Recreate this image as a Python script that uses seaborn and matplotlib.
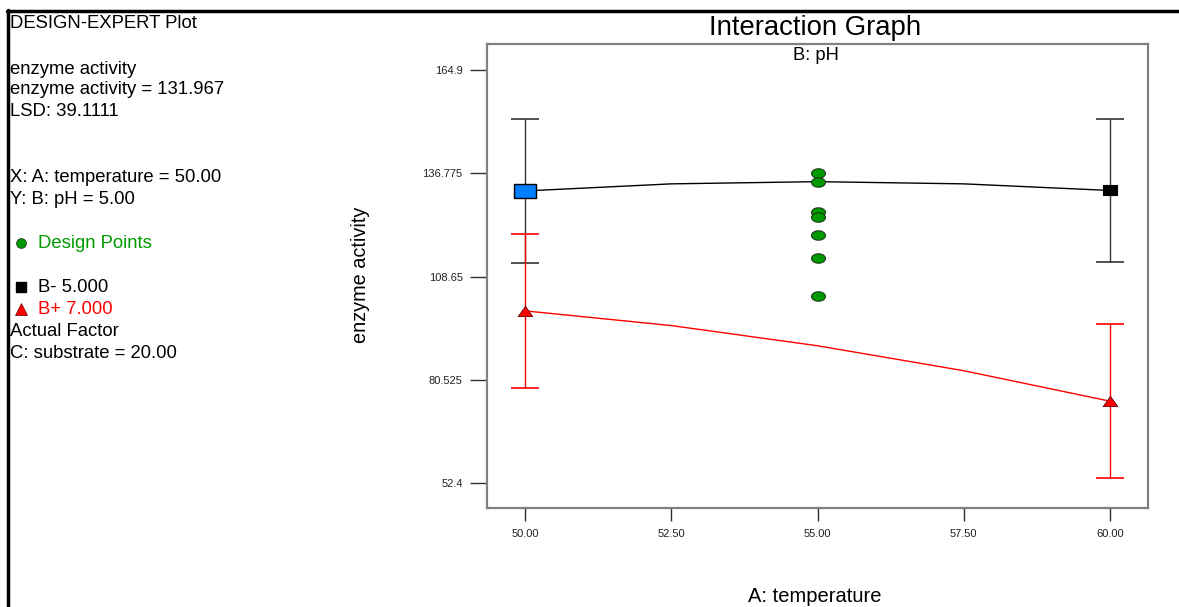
import numpy as np
import pandas as pd
import matplotlib
matplotlib.use("Agg")
import matplotlib.pyplot as plt
import seaborn as sns
from matplotlib.lines import Line2D

# ---------------- data ----------------
temperature_levels = [50.0, 52.5, 55.0, 57.5, 60.0]
ph_low_curve = [131.967, 133.9, 134.5, 133.9, 132.1]     # B- 5.000
ph_high_curve = [99.3, 95.3, 89.8, 83.0, 74.7]           # B+ 7.000
end_temps = [50.0, 60.0]
ph_low_means = [131.967, 132.1]
ph_high_means = [99.3, 74.7]
ph_low_err = [19.5, 19.5]
ph_high_err = [21.0, 21.0]
design_temp = [55.0, 55.0, 55.0, 55.0, 55.0, 55.0, 55.0]
design_activity = [136.9, 134.5, 126.3, 124.95, 120.0, 113.8, 103.4]
y_ticks = [52.4, 80.525, 108.65, 136.775, 164.9]
y_tick_labels = ["52.4", "80.525", "108.65", "136.775", "164.9"]
x_ticks = [50.0, 52.5, 55.0, 57.5, 60.0]
x_tick_labels = ["50.00", "52.50", "55.00", "57.50", "60.00"]

info_lines = [
    "DESIGN-EXPERT Plot",
    "enzyme activity",
    "enzyme activity = 131.967",
    "LSD: 39.1111",
    "X: A: temperature = 50.00",
    "Y: B: pH = 5.00",
    "Design Points",
    "B- 5.000",
    "B+ 7.000",
    "Actual Factor",
    "C: substrate = 20.00",
]

# ---------------- style ----------------
sns.set_theme(style="white")
plt.rcParams["font.family"] = ["Liberation Sans", "DejaVu Sans"]

W, H = 1179, 607
fig = plt.figure(figsize=(W / 100, H / 100), dpi=100)
fig.patch.set_facecolor("white")


def fx(px):
    return px / W


def fy(py):
    return 1 - py / H


ax = fig.add_axes([fx(487), fy(508), fx(1148) - fx(487), fy(44) - fy(508)])
ax.set_facecolor("white")

GREEN = "#009a00"
BLUE = "#0080ff"
RED = "#ff0000"

rect = [(-1, -0.68), (1, -0.68), (1, 0.68), (-1, 0.68), (-1, -0.68)]
tri = [(0, 0.7), (1, -0.7), (-1, -0.7), (0, 0.7)]
theta = np.linspace(0, 2 * np.pi, 40)
ellipse = list(zip(np.cos(theta), 0.68 * np.sin(theta)))

# curves
sns.lineplot(x=temperature_levels, y=ph_low_curve, color="black", lw=1.0, ax=ax)
sns.lineplot(x=temperature_levels, y=ph_high_curve, color=RED, lw=1.0, ax=ax)

# error bars
ax.errorbar(end_temps, ph_low_means, yerr=ph_low_err, fmt="none", ecolor="#333333",
            elinewidth=1.0, capsize=10, capthick=1.2, zorder=2)
ax.errorbar(end_temps, ph_high_means, yerr=ph_high_err, fmt="none", ecolor=RED,
            elinewidth=1.0, capsize=10, capthick=1.2, zorder=2)

# design points
sns.scatterplot(x=design_temp, y=design_activity, marker=ellipse, s=100,
                color=GREEN, edgecolor="#1a3a1a", linewidth=0.8, ax=ax, zorder=4)

# end markers
sns.scatterplot(x=[end_temps[0]], y=[ph_low_means[0]], marker=rect, s=250,
                color=BLUE, edgecolor="black", linewidth=1.0, ax=ax, zorder=5)
sns.scatterplot(x=[end_temps[1]], y=[ph_low_means[1]], marker=rect, s=100,
                color="black", edgecolor="black", linewidth=0.8, ax=ax, zorder=5)
sns.scatterplot(x=end_temps, y=ph_high_means, marker=tri, s=110,
                color=RED, edgecolor="#600000", linewidth=0.6, ax=ax, zorder=5)

ax.set_xlim(49.35, 60.65)
ax.set_ylim(45.6, 172.0)
ax.set_xticks(x_ticks)
ax.set_xticklabels(x_tick_labels)
ax.set_yticks(y_ticks)
ax.set_yticklabels(y_tick_labels)
ax.tick_params(axis="y", direction="out", length=12.5, width=1.0, color="#303030",
               labelsize=8, pad=5, left=True, labelcolor="#222222")
ax.tick_params(axis="x", direction="out", length=9, width=1.0, color="#303030",
               labelsize=8, pad=6, bottom=True, labelcolor="#222222")
for sp in ax.spines.values():
    sp.set_color("#808080")
    sp.set_linewidth(1.6)
ax.set_xlabel("")
ax.set_ylabel("")

# axis labels & titles
fig.text(fx(360), fy(275), "enzyme activity", rotation=90, ha="center", va="center",
         fontsize=14.3, color="black")
fig.text(fx(815), fy(596), "A: temperature", ha="center", va="center",
         fontsize=14.5, color="black")
fig.text(fx(815), fy(28), "Interaction Graph", ha="center", va="center",
         fontsize=19.8, color="black")
fig.text(fx(816), fy(56), "B: pH", ha="center", va="center", fontsize=13.2, color="black")

# left information panel
ys = [24, 69, 90, 112, 178, 200, 244, 288, 310, 332, 354]
for text, y in zip(info_lines, ys):
    color = "black"
    x = 10
    if text == "Design Points":
        color = GREEN
        x = 38
    elif text == "B- 5.000":
        x = 38
    elif text == "B+ 7.000":
        color = RED
        x = 38
    fig.text(fx(x), fy(y), text, ha="left", va="center", fontsize=13.3, color=color)

fig.add_artist(Line2D([fx(21)], [fy(243)], marker="o", markersize=7, color=GREEN,
                      markeredgecolor="#1a3a1a", markeredgewidth=0.6, transform=fig.transFigure))
fig.add_artist(Line2D([fx(21)], [fy(287)], marker="s", markersize=7, color="black",
                      transform=fig.transFigure))
fig.add_artist(Line2D([fx(21)], [fy(309)], marker="^", markersize=8.5, color=RED,
                      markeredgecolor="#600000", markeredgewidth=0.5, transform=fig.transFigure))

# outer border (top and left)
fig.add_artist(Line2D([fx(7), 1.0], [fy(11), fy(11)], lw=2.5, color="black",
                      transform=fig.transFigure))
fig.add_artist(Line2D([fx(8), fx(8)], [fy(10), 0.0], lw=2.5, color="black",
                      transform=fig.transFigure))

fig.savefig("out.png", dpi=100, facecolor="white")
